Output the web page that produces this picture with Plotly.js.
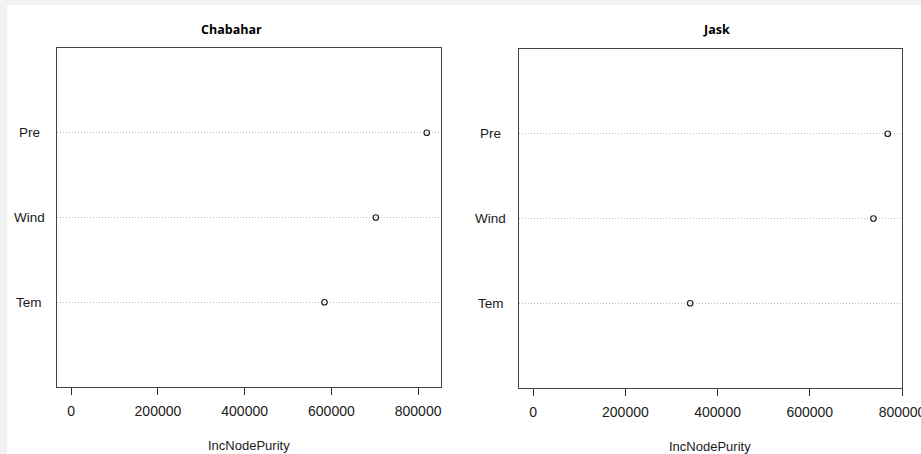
<!DOCTYPE html>
<html>
<head>
<meta charset="utf-8">
<script src="https://cdn.plot.ly/plotly-3.0.1.min.js"></script>
<style>
  html, body { margin: 0; padding: 0; background: #f2f2f2; }
  #chart { width: 921px; height: 454px; }
</style>
</head>
<body>
<div id="chart"></div>
<script>
// ---- data ----
const variables = ['Tem', 'Wind', 'Pre'];          // bottom to top
const chabaharValues = [584000, 702500, 820000];   // IncNodePurity
const jaskValues = [340500, 738000, 769000];       // IncNodePurity
const panelTitles = ['Chabahar', 'Jask'];
const xTickValues = [0, 200000, 400000, 600000, 800000];
const xAxisLabel = 'IncNodePurity';

// ---- layout helpers (pixel -> paper) ----
const W = 921, H = 454;
const px = v => v / W;
const py = v => 1 - v / H;

const axisFont = { family: 'Liberation Sans, Arial, sans-serif', size: 14, color: '#1a1a1a' };
const labelFont = { family: 'Liberation Sans, Arial, sans-serif', size: 13.5, color: '#1a1a1a' };
const titleFont = { family: 'Open Sans, Noto Sans, sans-serif', size: 12.5, color: '#000', weight: 'bold' };

function xaxisCfg(domain, range) {
  return {
    domain: domain, range: range, type: 'linear',
    tickvals: xTickValues, tickformat: 'd',
    ticks: 'outside', ticklen: 7, tickwidth: 1, tickcolor: '#333',
    tickfont: axisFont, ticklabeloverflow: 'allow', ticklabelstandoff: 4,
    showgrid: false, zeroline: false,
    showline: true, mirror: true, linecolor: '#444', linewidth: 1,
    fixedrange: true
  };
}
function yaxisCfg(domain, anchor) {
  return {
    domain: domain, type: 'category', categoryorder: 'array', categoryarray: variables,
    range: [-1, 3], anchor: anchor,
    showticklabels: false, ticks: '',
    showgrid: true, gridcolor: '#bdbdbd', griddash: '1px,2px', gridwidth: 1,
    zeroline: false,
    showline: true, mirror: true, linecolor: '#444', linewidth: 1,
    fixedrange: true
  };
}

const marker = { symbol: 'circle-open', size: 5.5, color: '#222', line: { width: 1.2, color: '#222' } };

const traces = [
  { type: 'scatter', mode: 'markers', x: chabaharValues, y: variables, xaxis: 'x', yaxis: 'y', marker: marker, hoverinfo: 'skip', showlegend: false },
  { type: 'scatter', mode: 'markers', x: jaskValues, y: variables, xaxis: 'x2', yaxis: 'y2', marker: marker, hoverinfo: 'skip', showlegend: false }
];

const annotations = [];
// panel titles
annotations.push({ text: panelTitles[0], xref: 'paper', yref: 'paper', x: px(231), y: py(30), xanchor: 'center', yanchor: 'middle', showarrow: false, font: titleFont });
annotations.push({ text: panelTitles[1], xref: 'paper', yref: 'paper', x: px(716), y: py(30), xanchor: 'center', yanchor: 'middle', showarrow: false, font: titleFont });
// x axis titles
annotations.push({ text: xAxisLabel, xref: 'paper', yref: 'paper', x: px(249), y: py(445), xanchor: 'center', yanchor: 'middle', showarrow: false, font: { family: axisFont.family, size: 13, color: '#1a1a1a' } });
annotations.push({ text: xAxisLabel, xref: 'paper', yref: 'paper', x: px(710), y: py(446), xanchor: 'center', yanchor: 'middle', showarrow: false, font: { family: axisFont.family, size: 13, color: '#1a1a1a' } });
// category labels (centered, R dotchart style)
variables.forEach(v => {
  annotations.push({ text: v, xref: 'paper', yref: 'y', x: px(29), y: v, xanchor: 'center', yanchor: 'middle', showarrow: false, font: labelFont });
  annotations.push({ text: v, xref: 'paper', yref: 'y2', x: px(490.5), y: v, xanchor: 'center', yanchor: 'middle', showarrow: false, font: labelFont });
});

const layout = {
  width: W, height: H,
  margin: { l: 0, r: 0, t: 0, b: 0, pad: 0 },
  paper_bgcolor: '#f2f2f2',
  plot_bgcolor: 'rgba(0,0,0,0)',
  showlegend: false,
  xaxis: xaxisCfg([px(57), px(441)], [-32800, 852800]),
  yaxis: yaxisCfg([1 - 387 / H, 1 - 48 / H], 'x'),
  xaxis2: Object.assign(xaxisCfg([px(519), px(902)], [-30770, 800000]), { anchor: 'y2' }),
  yaxis2: yaxisCfg([1 - 388 / H, 1 - 49 / H], 'x2'),
  shapes: [
    { type: 'rect', xref: 'paper', yref: 'paper', x0: px(7), x1: 1.01, y0: -0.01, y1: py(5), fillcolor: '#ffffff', line: { width: 0 }, layer: 'below' }
  ],
  annotations: annotations
};
layout.xaxis.anchor = 'y';

Plotly.newPlot('chart', traces, layout, { displayModeBar: false, staticPlot: true });
</script>
</body>
</html>
